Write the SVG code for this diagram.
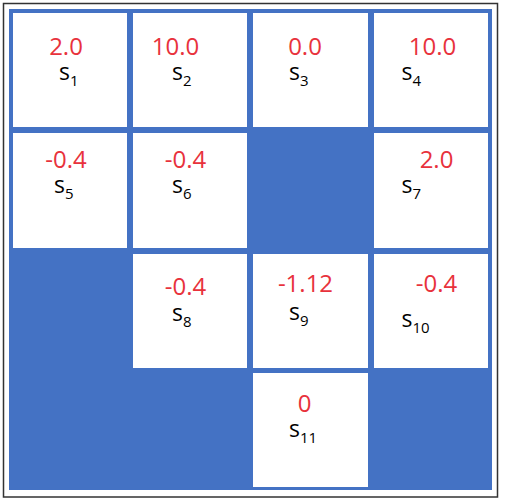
<svg xmlns="http://www.w3.org/2000/svg" width="505" height="503" viewBox="0 0 505 503">
<style>
.cell{fill:#ffffff}
.val{font-family:"Open Sans","Noto Sans",sans-serif;font-size:24px;fill:#e8323c;text-anchor:middle}
.lab{font-family:"Open Sans","Noto Sans",sans-serif;font-size:23px;fill:#000000}
.sub{font-size:15px}
</style>
<rect x="0" y="0" width="505" height="503" fill="#ffffff"/>
<rect x="3.5" y="3.5" width="494" height="493.5" fill="none" stroke="#333333" stroke-width="1.5"/>
<rect x="9" y="9" width="483" height="481" fill="#4472c4"/>
<g id="s1"><rect class="cell" x="13" y="13" width="114" height="114"/><text class="val" x="66" y="55">2.0</text><text class="lab" x="59" y="80">s<tspan class="sub" dy="6">1</tspan></text></g>
<g id="s2"><rect class="cell" x="133" y="13" width="114" height="114"/><text class="val" x="175.5" y="55">10.0</text><text class="lab" x="172" y="80">s<tspan class="sub" dy="6">2</tspan></text></g>
<g id="s3"><rect class="cell" x="253" y="13" width="115" height="114"/><text class="val" x="305" y="55">0.0</text><text class="lab" x="289" y="80">s<tspan class="sub" dy="6">3</tspan></text></g>
<g id="s4"><rect class="cell" x="374" y="13" width="114" height="114"/><text class="val" x="432.5" y="55">10.0</text><text class="lab" x="401.5" y="80">s<tspan class="sub" dy="6">4</tspan></text></g>
<g id="s5"><rect class="cell" x="13" y="133" width="114" height="115"/><text class="val" x="66" y="168">-0.4</text><text class="lab" x="54" y="193">s<tspan class="sub" dy="6">5</tspan></text></g>
<g id="s6"><rect class="cell" x="133" y="133" width="114" height="115"/><text class="val" x="185.5" y="168">-0.4</text><text class="lab" x="172" y="193">s<tspan class="sub" dy="6">6</tspan></text></g>
<g id="s7"><rect class="cell" x="374" y="133" width="114" height="115"/><text class="val" x="436.5" y="168">2.0</text><text class="lab" x="401.5" y="193">s<tspan class="sub" dy="6">7</tspan></text></g>
<g id="s8"><rect class="cell" x="133" y="254" width="114" height="114"/><text class="val" x="185.5" y="295">-0.4</text><text class="lab" x="172" y="321">s<tspan class="sub" dy="6">8</tspan></text></g>
<g id="s9"><rect class="cell" x="253" y="254" width="115" height="114"/><text class="val" x="305.5" y="292">-1.12</text><text class="lab" x="289" y="320">s<tspan class="sub" dy="6">9</tspan></text></g>
<g id="s10"><rect class="cell" x="374" y="254" width="114" height="114"/><text class="val" x="436.5" y="292">-0.4</text><text class="lab" x="401.5" y="327">s<tspan class="sub" dy="6">10</tspan></text></g>
<g id="s11"><rect class="cell" x="253" y="373" width="115" height="114"/><text class="val" x="304.5" y="412">0</text><text class="lab" x="289" y="437">s<tspan class="sub" dy="6">11</tspan></text></g>
</svg>
